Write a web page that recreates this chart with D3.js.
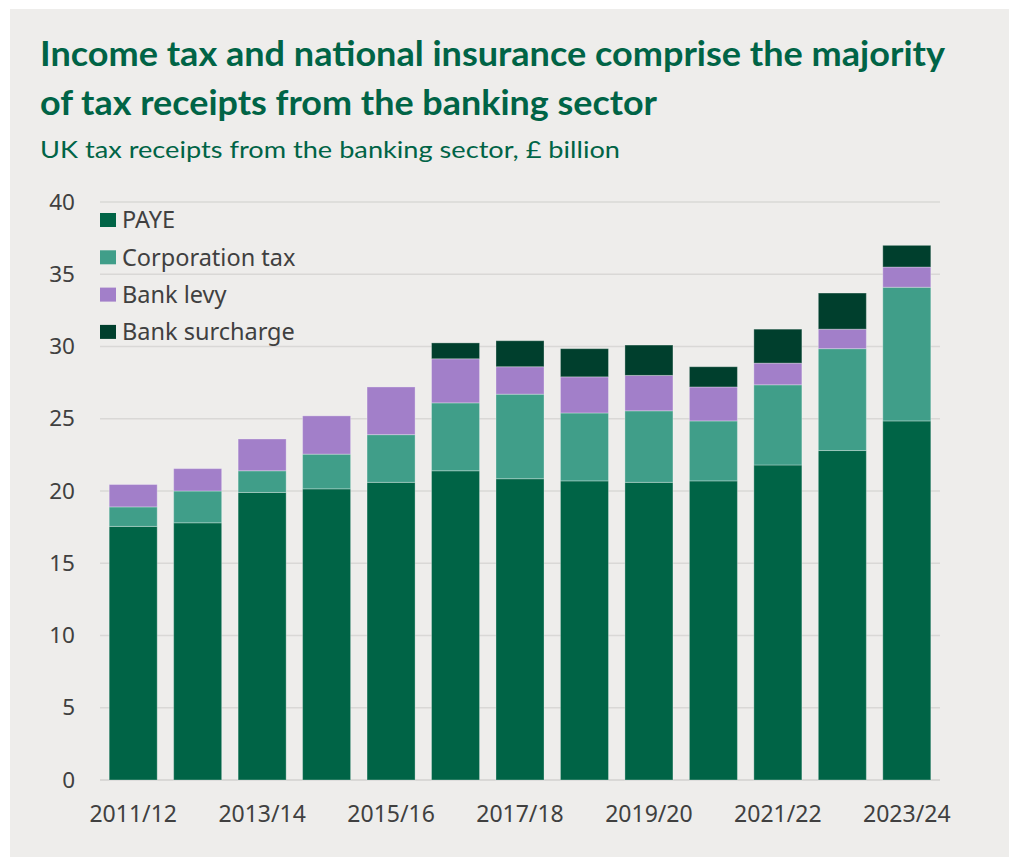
<!DOCTYPE html>
<html>
<head>
<meta charset="utf-8">
<script src="https://cdn.jsdelivr.net/npm/d3@7"></script>
<style>
  html, body { margin: 0; padding: 0; background: #ffffff; }
  svg { display: block; }
</style>
</head>
<body>
<svg id="chart" width="1013" height="857"></svg>
<script>
// Fiscal years shown on the x axis
const years = ["2011/12","2012/13","2013/14","2014/15","2015/16","2016/17","2017/18",
               "2018/19","2019/20","2020/21","2021/22","2022/23","2023/24"];

// Tax receipts by type, £ billion
const paye        = [17.55, 17.8, 19.9, 20.15, 20.6, 21.4, 20.85, 20.7, 20.6, 20.7, 21.8, 22.8, 24.85];
const corpTax     = [1.35, 2.2, 1.5, 2.4, 3.3, 4.7, 5.85, 4.7, 4.95, 4.15, 5.55, 7.05, 9.25];
const bankLevy    = [1.55, 1.55, 2.2, 2.65, 3.3, 3.05, 1.9, 2.5, 2.45, 2.35, 1.5, 1.35, 1.4];
const surcharge   = [0, 0, 0, 0, 0, 1.1, 1.8, 1.95, 2.1, 1.4, 2.35, 2.5, 1.5];

const seriesNames = ["PAYE", "Corporation tax", "Bank levy", "Bank surcharge"];
const seriesColors = ["#006446", "#409e89", "#a27fc9", "#003f2d"];
const yTicks = [0, 5, 10, 15, 20, 25, 30, 35, 40];
const xLabels = ["2011/12","2013/14","2015/16","2017/18","2019/20","2021/22","2023/24"];

const svg = d3.select("#chart");

// Panel background
svg.append("rect")
  .attr("x", 10).attr("y", 9)
  .attr("width", 999).attr("height", 848)
  .attr("fill", "#eeedeb");

// Title and subtitle
const title = svg.append("g");
title.append("text")
  .attr("x", 40).attr("y", 66)
  .attr("font-family", "Lato, sans-serif")
  .attr("font-weight", 700)
  .attr("font-size", 34)
  .attr("fill", "#006446")
  .attr("textLength", 905)
  .attr("lengthAdjust", "spacingAndGlyphs")
  .text("Income tax and national insurance comprise the majority");
title.append("text")
  .attr("x", 40).attr("y", 115)
  .attr("font-family", "Lato, sans-serif")
  .attr("font-weight", 700)
  .attr("font-size", 34)
  .attr("fill", "#006446")
  .attr("textLength", 617)
  .attr("lengthAdjust", "spacingAndGlyphs")
  .text("of tax receipts from the banking sector");
title.append("text")
  .attr("x", 40).attr("y", 158)
  .attr("font-family", "Lato, sans-serif")
  .attr("font-size", 24)
  .attr("fill", "#006446")
  .attr("textLength", 580)
  .attr("lengthAdjust", "spacingAndGlyphs")
  .text("UK tax receipts from the banking sector, £ billion");

// Scales
const x = d3.scaleBand().domain(years).range([101, 939]).paddingInner(0.255).paddingOuter(0.127);
const y = d3.scaleLinear().domain([0, 40]).range([780, 202]);

// Gridlines
svg.append("g")
  .selectAll("line")
  .data(yTicks)
  .join("line")
  .attr("x1", 100).attr("x2", 940)
  .attr("y1", d => y(d)).attr("y2", d => y(d))
  .attr("stroke", "#d9d8d6")
  .attr("stroke-width", d => d === 0 ? 2 : 1.5);

// Y axis labels
const yAxis = d3.axisLeft(y).tickValues(yTicks).tickSize(0).tickPadding(0);
svg.append("g")
  .attr("transform", "translate(75,0)")
  .call(yAxis)
  .call(g => g.select(".domain").remove())
  .call(g => g.selectAll("text")
    .attr("font-family", "'Noto Sans', sans-serif")
    .attr("font-size", 22.5)
    .attr("fill", "#404040"));

// X axis labels (every other year)
const xAxis = d3.axisBottom(x).tickValues(xLabels).tickSize(0).tickPadding(0);
svg.append("g")
  .attr("transform", "translate(0,806)")
  .call(xAxis)
  .call(g => g.select(".domain").remove())
  .call(g => g.selectAll("text")
    .attr("font-family", "'Noto Sans', sans-serif")
    .attr("font-size", 23)
    .attr("fill", "#404040"));

// Stacked bars
const table = years.map((yr, i) => ({
  year: yr,
  "PAYE": paye[i],
  "Corporation tax": corpTax[i],
  "Bank levy": bankLevy[i],
  "Bank surcharge": surcharge[i]
}));
const stacked = d3.stack().keys(seriesNames)(table);

svg.append("g")
  .selectAll("g")
  .data(stacked)
  .join("g")
  .attr("fill", (d, i) => seriesColors[i])
  .selectAll("rect")
  .data(d => d.filter(s => s[1] - s[0] > 0))
  .join("rect")
  .attr("x", d => x(d.data.year))
  .attr("width", x.bandwidth())
  .attr("y", d => y(d[1]))
  .attr("height", d => y(d[0]) - y(d[1]))
  .attr("stroke", "rgba(255,255,255,0.3)")
  .attr("stroke-width", 1);

// Legend
const legend = svg.append("g").attr("transform", "translate(100,220)");
const items = legend.selectAll("g")
  .data(seriesNames)
  .join("g")
  .attr("transform", (d, i) => `translate(0,${i * 37.3})`);
items.append("rect")
  .attr("x", 0).attr("y", -7)
  .attr("width", 16).attr("height", 14)
  .attr("fill", (d, i) => seriesColors[i]);
items.append("text")
  .attr("x", 22).attr("y", 0)
  .attr("dy", "0.35em")
  .attr("font-family", "'Noto Sans', sans-serif")
  .attr("font-size", 23.5)
  .attr("fill", "#404040")
  .text(d => d);
</script>
</body>
</html>
